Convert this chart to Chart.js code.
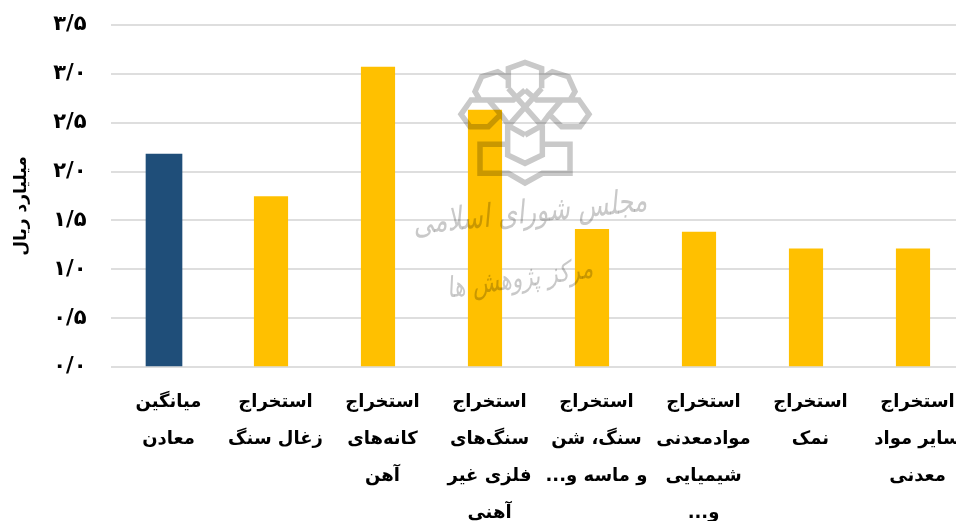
<!DOCTYPE html>
<html lang="fa">
<head>
<meta charset="utf-8">
<style>
html,body{margin:0;padding:0;background:#fff;overflow:hidden;width:956px;height:521px}
canvas{display:block;direction:rtl}
</style>
<script src="https://cdn.jsdelivr.net/npm/chart.js@4"></script>
</head>
<body>
<canvas id="c" width="980" height="521"></canvas>
<script>
const categories = [
  ["میانگین","معادن"],
  ["استخراج","زغال سنگ"],
  ["استخراج","کانه‌های","آهن"],
  ["استخراج","سنگ‌های","فلزی غیر","آهنی"],
  ["استخراج","سنگ، شن","و ماسه و..."],
  ["استخراج","موادمعدنی","شیمیایی","و..."],
  ["استخراج","نمک"],
  ["استخراج","سایر مواد","معدنی"]
];
const averageValues = [2.18,null,null,null,null,null,null,null];
const sectorValues = [null,1.745,3.07,2.63,1.41,1.38,1.21,1.21];
const yTickLabels = ["۰/۰","۰/۵","۱/۰","۱/۵","۲/۰","۲/۵","۳/۰","۳/۵"];
const yAxisTitle = "میلیارد ریال";
const watermarkTitle = "مجلس شورای اسلامی";
const watermarkSubtitle = "مرکز پژوهش ها";
const FONT = "'DejaVu Sans'";

const axisTitle = {
  id:'axisTitle',
  afterDraw(chart){
    const g = chart.ctx;
    g.save();
    g.translate(22,206); g.rotate(-Math.PI/2);
    g.fillStyle='#000'; g.textAlign='center'; g.textBaseline='middle';
    g.font = "bold 17px 'DejaVu Sans'";
    g.fillText(yAxisTitle,0,0);
    g.restore();
  }
};

const watermark = {
  id:'watermark',
  afterDraw(chart){
    const g = chart.ctx;
    g.save();
    g.globalCompositeOperation = 'multiply';
    const col = '#c9c9c9';
    g.strokeStyle = col; g.lineWidth = 5.5; g.lineJoin='miter';
    const ox=455, oy=55;
    const path=new Path2D();
    const add=(pts,close)=>{pts.forEach((p,i)=>{const x=ox+p[0]/3,y=oy+p[1]/3;i?path.lineTo(x,y):path.moveTo(x,y);});if(close)path.closePath();};
    const mx=(p)=>[420-p[0],p[1]];
    const both=(pts,close)=>{add(pts,close);add(pts.map(mx),close);};
    add([[160,100],[160,40],[210,22],[260,40],[260,100]],false);
    both([[48,135],[18,178],[45,215],[100,215],[137,178],[100,135]],true);
    both([[48,135],[75,135],[60,110],[80,65],[128,50],[160,70]],false);
    both([[100,135],[175,135],[210,105]],false);
    add([[160,100],[262,215],[262,300],[210,325],[158,300],[158,215],[260,100]],false);
    both([[137,178],[165,215],[210,240]],false);
    add([[160,268],[75,268],[75,355],[160,355],[210,384],[262,355],[345,355],[345,268],[262,268]],false);
    g.stroke(path);
    g.fillStyle = col;
    g.textAlign='center'; g.textBaseline='middle';
    g.save();
    g.translate(530,214); g.rotate(-0.1); g.scale(1,1.3);
    g.font = "italic 25px 'DejaVu Sans'";
    g.fillText(watermarkTitle,0,0);
    g.restore();
    g.save();
    g.translate(520,280); g.rotate(-0.14); g.scale(1,1.3);
    g.font = "italic 22px 'DejaVu Sans'";
    g.fillText(watermarkSubtitle,0,0);
    g.restore();
    g.restore();
  }
};

new Chart(document.getElementById('c'),{
  type:'bar',
  data:{
    labels:categories,
    datasets:[
      {data:averageValues,backgroundColor:'#1F4E79',barThickness:36,stack:'s'},
      {data:sectorValues,backgroundColor:'#FFC000',barThickness:33.5,stack:'s'}
    ]
  },
  options:{
    responsive:false,
    animation:false,
    layout:{padding:{top:25,right:13.5,left:0,bottom:0}},
    plugins:{legend:{display:false},tooltip:{enabled:false},title:{display:false}},
    scales:{
      x:{
        stacked:true,
        grid:{display:false,drawTicks:false},
        border:{display:false},
        ticks:{
          maxRotation:0,minRotation:0,autoSkip:false,padding:17,color:'#000',labelOffset:4.5,
          font:{family:FONT,weight:'bold',size:18,lineHeight:2.05}
        },
        afterFit(s){s.height=154;s.paddingLeft=0;s.paddingRight=0;}
      },
      y:{
        stacked:true,min:0,max:3.5,
        border:{display:false},
        grid:{color:'#dedede',lineWidth:2,drawTicks:false},
        ticks:{
          stepSize:0.5,padding:24,color:'#000',
          font:{family:FONT,weight:'bold',size:21},
          callback:(v,i)=>yTickLabels[i]
        },
        afterFit(s){s.width=110.5;s.paddingTop=0;s.paddingBottom=0;}
      }
    }
  },
  plugins:[watermark,axisTitle]
});
</script>
</body>
</html>
